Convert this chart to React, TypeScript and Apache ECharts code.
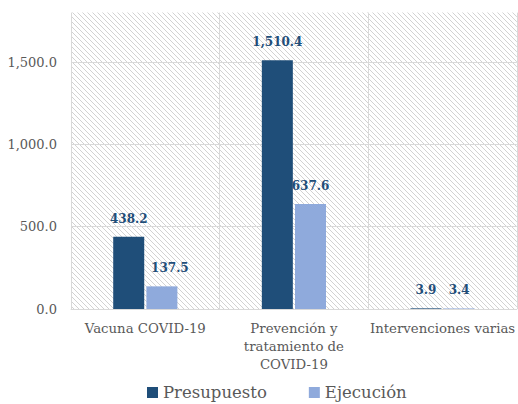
import React, { useEffect, useRef } from "react";
import * as echarts from "echarts";

const categories = ["Vacuna COVID-19", "Prevención y\ntratamiento de\nCOVID-19", "Intervenciones varias"];
const presupuesto = [438.2, 1510.4, 3.9];
const ejecucion = [137.5, 637.6, 3.4];
const seriesNames = ["Presupuesto", "Ejecución"];

const FONT = "DejaVu Serif";

function makeHatch(): string {
  const c = document.createElement("canvas");
  const n = 5;
  c.width = n;
  c.height = n;
  const ctx = c.getContext("2d")!;
  ctx.fillStyle = "#ffffff";
  ctx.fillRect(0, 0, n, n);
  ctx.fillStyle = "#d2d2d2";
  for (let y = 0; y < n; y++) {
    for (let x = 0; x < n; x++) {
      if ((x - y + n) % n === 0) ctx.fillRect(x, y, 1, 1);
    }
  }
  return c.toDataURL();
}

const fmt = (v: number) =>
  v.toLocaleString("en-US", { minimumFractionDigits: 1, maximumFractionDigits: 1 });

export default function App() {
  const ref = useRef<HTMLDivElement>(null);
  useEffect(() => {
    if (!ref.current) return;
    const chart = echarts.init(ref.current, null, { renderer: "svg" });
    const hatch = makeHatch();
    const labelStyle = {
      show: true,
      position: "top" as const,
      distance: 12,
      color: "#1F4E79",
      fontFamily: FONT,
      fontWeight: "bold" as const,
      fontSize: 12,
      formatter: (p: any) => fmt(p.value),
    };
    chart.setOption({
      animation: false,
      backgroundColor: "#ffffff",
      textStyle: { fontFamily: FONT },
      grid: {
        left: 71,
        right: 0,
        top: 12.6,
        bottom: 95,
        show: true,
        borderWidth: 0,
        backgroundColor: { image: hatch, repeat: "repeat" },
      },
      legend: {
        data: seriesNames,
        left: 147,
        top: 384,
        padding: 0,
        icon: "rect",
        itemWidth: 11,
        itemHeight: 11,
        itemGap: 42,
        textStyle: { color: "#595959", fontSize: 16.5, fontFamily: FONT },
      },
      xAxis: {
        type: "category",
        data: categories,
        axisLine: { show: true, lineStyle: { color: "#D9D9D9", width: 1 } },
        axisTick: { show: false },
        splitLine: { show: true, lineStyle: { color: "#D9D9D9", width: 1 } },
        axisLabel: {
          interval: 0,
          color: "#595959",
          fontFamily: FONT,
          fontSize: 13.3,
          lineHeight: 18,
          margin: 10,
        },
      },
      yAxis: {
        type: "value",
        min: 0,
        max: 1800,
        interval: 500,
        axisLine: { show: false },
        axisTick: { show: false },
        splitLine: { show: true, showMaxLine: false, lineStyle: { color: "#D9D9D9", width: 1 } },
        axisLabel: {
          showMaxLabel: false,
          color: "#595959",
          fontFamily: FONT,
          fontSize: 13,
          margin: 14,
          formatter: (v: number) => (v > 1500 ? "" : fmt(v)),
        },
      },
      series: [
        {
          name: seriesNames[0],
          type: "bar",
          data: presupuesto,
          barWidth: 31,
          barGap: "7%",
          itemStyle: { color: "#1F4E79" },
          label: labelStyle,
        },
        {
          name: seriesNames[1],
          type: "bar",
          data: ejecucion.map((v, i) => (i === 0 ? { value: v, label: { offset: [8, 0] } } : v)),
          barWidth: 31,
          barGap: "7%",
          itemStyle: { color: "#8FAADC" },
          label: labelStyle,
        },
      ],
    });
    return () => chart.dispose();
  }, []);
  return <div ref={ref} style={{ width: 518, height: 404, position: "absolute", left: 0, top: 0 }} />;
}
